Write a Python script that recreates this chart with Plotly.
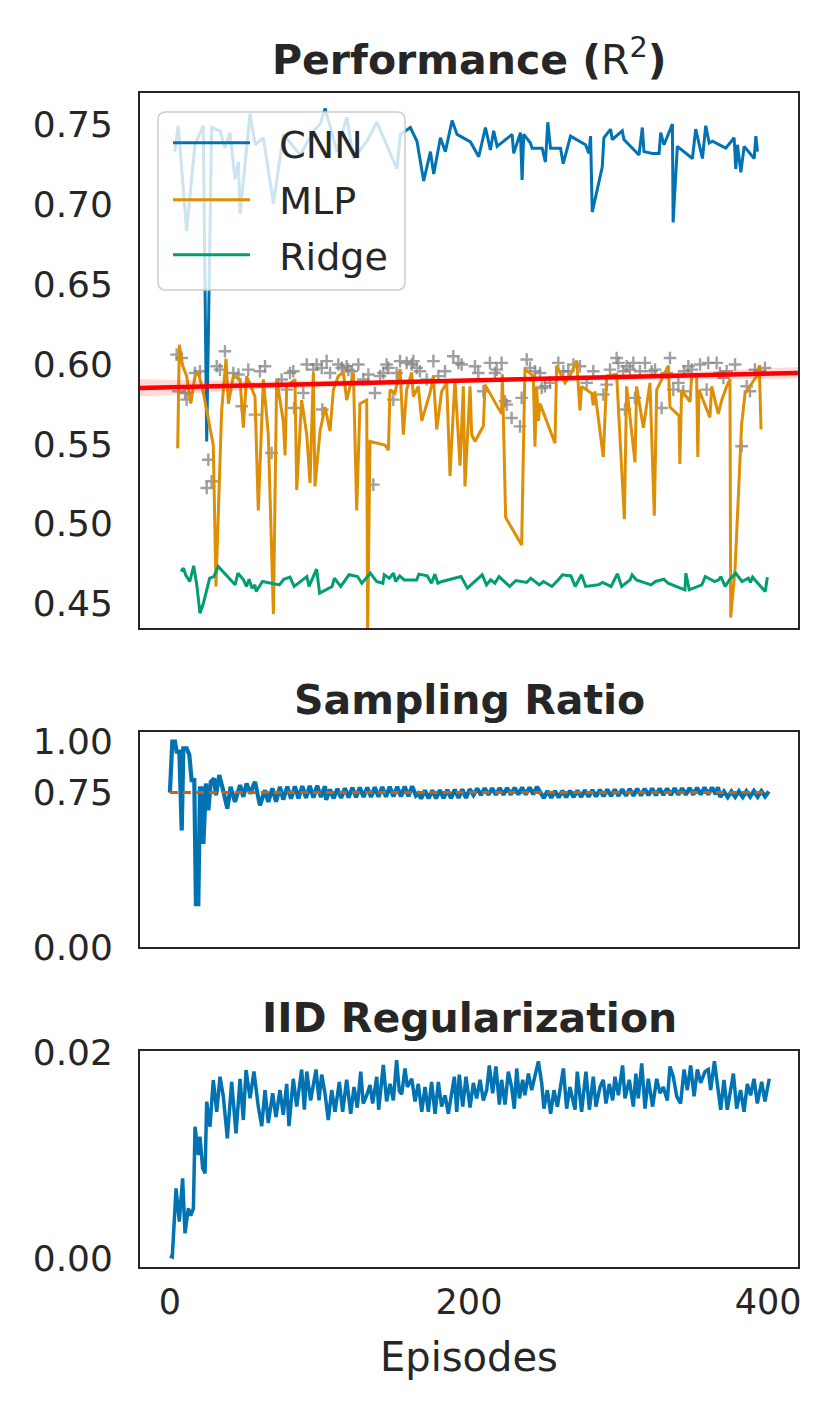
import plotly.graph_objects as go

# ---------------- data ----------------
episodes_ticks = [0, 200, 400]

cnn_x = [3.3, 5.6, 11.2, 16.7, 22.3, 24.6, 27.9, 33.5, 36.8, 40.2, 43.5, 45.8, 46.9, 53.6, 57.0, 62.5, 69.2, 75.9, 87.1, 96.0,
         100.5, 103.8, 111.7, 118.3, 122.8, 131.7, 138.4, 151.8, 154.1, 160.8, 165.2, 169.7, 174.2, 176.4, 180.9, 184.2, 188.7, 192.0, 201.0, 206.5,
         211.0, 214.3, 216.5, 218.8, 228.8, 229.9, 234.4, 235.5, 236.6, 241.1, 242.2, 248.9, 251.1, 252.7, 254.5, 261.2, 263.0, 267.9, 277.9, 280.2,
         281.3, 282.4, 289.1, 290.2, 294.7, 295.8, 302.5, 303.6, 313.7, 315.9, 317.0, 322.6, 327.1, 328.2, 330.4, 336.0, 336.5, 338.2, 339.3, 349.4,
         351.6, 356.1, 358.3, 360.6, 362.8, 371.7, 377.3, 378.4, 379.5, 381.8, 384.0, 390.7, 391.8, 392.9]
cnn_r2 = [0.7329, 0.7491, 0.6832, 0.7372, 0.7491, 0.5515, 0.7480, 0.7459, 0.7351, 0.7448, 0.7156, 0.7264, 0.6940, 0.7567, 0.7372, 0.7416, 0.7005, 0.7437, 0.7308, 0.7459,
          0.7502, 0.7599, 0.7329, 0.7545, 0.7286, 0.7394, 0.7513, 0.7221, 0.7437, 0.7480, 0.7394, 0.7146, 0.7329, 0.7189, 0.7416, 0.7329, 0.7524, 0.7437, 0.7390, 0.7297,
          0.7480, 0.7340, 0.7459, 0.7362, 0.7437, 0.7318, 0.7448, 0.7152, 0.7437, 0.7383, 0.7351, 0.7351, 0.7264, 0.7513, 0.7351, 0.7351, 0.7254, 0.7426, 0.7372, 0.7318,
          0.7426, 0.6951, 0.7232, 0.7416, 0.7470, 0.7405, 0.7459, 0.7405, 0.7308, 0.7480, 0.7329, 0.7318, 0.7318, 0.7448, 0.7372, 0.7502, 0.6886, 0.7156, 0.7362, 0.7286,
          0.7470, 0.7286, 0.7491, 0.7383, 0.7394, 0.7351, 0.7416, 0.7221, 0.7372, 0.7200, 0.7362, 0.7286, 0.7426, 0.7329]

mlp_x = [5.2, 6.3, 8.5, 11.2, 13.9, 16.8, 19.0, 22.4, 29.0, 30.8, 34.6, 37.5, 39.1, 42.4, 46.9, 49.1, 51.3, 56.9, 59.1, 62.5,
         65.8, 69.2, 71.4, 75.8, 77.0, 78.1, 83.6, 84.8, 88.1, 91.5, 93.7, 95.9, 97.0, 100.4, 103.7, 107.1, 109.3, 112.6, 116.0, 118.2,
         122.7, 124.9, 127.1, 131.6, 132.2, 133.8, 143.8, 146.1, 147.2, 150.5, 153.9, 156.1, 158.3, 161.7, 162.8, 166.1, 168.4, 173.9, 176.2, 178.4,
         181.7, 185.1, 187.3, 190.6, 194.0, 196.2, 197.3, 200.7, 201.8, 204.0, 209.6, 210.7, 221.8, 222.3, 224.5, 235.2, 237.4, 243.0, 244.1, 245.2,
         246.4, 247.5, 257.5, 258.6, 262.0, 264.2, 267.5, 272.0, 274.2, 275.3, 282.0, 283.1, 284.2, 289.8, 292.1, 298.7, 303.9, 305.4, 311.0, 312.1,
         316.6, 321.0, 323.9, 325.5, 333.3, 334.4, 340.4, 341.0, 342.2, 347.8, 348.9, 352.2, 353.0, 353.8, 361.1, 362.3, 366.7, 369.0, 372.3, 374.5,
         375.0, 377.9, 382.3, 384.6, 392.4, 394.1, 395.3]
mlp_r2 = [0.5472, 0.6120, 0.5990, 0.5925, 0.5752, 0.5925, 0.5947, 0.5817, 0.5493, 0.4608, 0.5709, 0.6033, 0.5752, 0.5925, 0.5904, 0.5601, 0.5925, 0.5796, 0.5083, 0.5904,
          0.5558, 0.4435, 0.5904, 0.5644, 0.5428, 0.5860, 0.5904, 0.5212, 0.5774, 0.5558, 0.5256, 0.5947, 0.5234, 0.5580, 0.5731, 0.5580, 0.5839, 0.5925, 0.5947, 0.5774,
          0.5947, 0.5083, 0.5752, 0.5774, 0.4300, 0.5515, 0.5493, 0.5461, 0.5839, 0.5817, 0.5968, 0.5558, 0.5839, 0.5947, 0.5796, 0.5860, 0.5644, 0.5817, 0.5925, 0.5590,
          0.5828, 0.5882, 0.5299, 0.5904, 0.5364, 0.5860, 0.5234, 0.5860, 0.5558, 0.5515, 0.5612, 0.5871, 0.5688, 0.5936, 0.5040, 0.4867, 0.5968, 0.5925, 0.5482, 0.5860,
          0.5644, 0.5752, 0.5504, 0.5990, 0.5925, 0.5882, 0.5925, 0.6022, 0.5709, 0.5860, 0.5817, 0.5742, 0.5828, 0.5418, 0.5925, 0.5936, 0.5029, 0.5860, 0.5385, 0.5860,
          0.5601, 0.5882, 0.5050, 0.5839, 0.5990, 0.5731, 0.5677, 0.5374, 0.5839, 0.5763, 0.5925, 0.5925, 0.5418, 0.5839, 0.5666, 0.5860, 0.5688, 0.5774, 0.5860, 0.5904,
          0.4413, 0.4716, 0.5623, 0.5817, 0.5925, 0.5990, 0.5590]

ridge_x = [7.4, 9.1, 10.5, 13.3, 15.9, 18.1, 20.1, 22.4, 26.6, 29.4, 32.3, 36.5, 43.6, 45.5, 49.2, 51.2, 52.9, 54.9, 56.8, 57.7,
           61.9, 73.2, 76.1, 80.3, 83.1, 91.6, 93.0, 98.1, 100.1, 108.5, 110.0, 114.2, 119.8, 125.5, 128.3, 134.0, 138.2, 142.4, 143.3, 146.7,
           149.5, 150.9, 153.7, 156.6, 165.0, 166.5, 172.1, 174.9, 177.2, 179.2, 182.0, 194.7, 198.9, 208.8, 211.7, 214.5, 217.3, 220.1, 227.2, 231.4,
           238.5, 241.3, 247.0, 249.8, 255.4, 259.7, 262.5, 268.2, 271.0, 275.2, 278.0, 286.5, 289.3, 295.0, 299.2, 302.1, 307.7, 309.1, 311.9, 321.8,
           324.7, 330.3, 333.1, 344.4, 345.0, 347.3, 355.7, 358.0, 364.2, 367.0, 368.4, 371.3, 374.1, 378.3, 382.6, 386.8, 388.2, 389.6, 398.1, 399.5]
ridge_r2 = [0.4702, 0.4722, 0.4681, 0.4639, 0.4737, 0.4608, 0.4440, 0.4503, 0.4660, 0.4670, 0.4733, 0.4691, 0.4618, 0.4691, 0.4649, 0.4608, 0.4653, 0.4597, 0.4618, 0.4576,
            0.4639, 0.4618, 0.4653, 0.4666, 0.4608, 0.4670, 0.4608, 0.4716, 0.4566, 0.4608, 0.4660, 0.4608, 0.4681, 0.4670, 0.4628, 0.4691, 0.4639, 0.4628, 0.4681, 0.4660,
            0.4691, 0.4639, 0.4674, 0.4649, 0.4649, 0.4685, 0.4674, 0.4628, 0.4685, 0.4628, 0.4639, 0.4670, 0.4597, 0.4681, 0.4618, 0.4649, 0.4628, 0.4670, 0.4608, 0.4645,
            0.4633, 0.4660, 0.4618, 0.4639, 0.4608, 0.4649, 0.4681, 0.4674, 0.4608, 0.4681, 0.4608, 0.4618, 0.4633, 0.4608, 0.4687, 0.4608, 0.4649, 0.4681, 0.4649, 0.4618,
            0.4639, 0.4653, 0.4628, 0.4587, 0.4691, 0.4587, 0.4618, 0.4670, 0.4639, 0.4649, 0.4670, 0.4608, 0.4649, 0.4691, 0.4639, 0.4660, 0.4633, 0.4666, 0.4576, 0.4666]

scatter_x = [4.5, 7.9, 5.6, 10.1, 11.2, 16.8, 20.1, 24.6, 25.7, 27.9, 31.3, 33.5, 36.8, 42.4, 45.8, 48.0, 52.4, 56.9, 60.2, 63.6,
             68.0, 72.5, 74.7, 78.1, 80.3, 82.5, 83.0, 89.2, 91.5, 95.9, 98.1, 101.5, 101.9, 104.8, 107.1, 112.6, 114.9, 118.2, 119.3, 121.5,
             126.0, 129.3, 132.7, 136.0, 137.1, 140.5, 142.7, 144.9, 146.1, 149.4, 151.6, 153.9, 158.3, 161.7, 162.8, 165.0, 167.2, 171.7, 176.2, 179.5,
             184.0, 189.5, 192.9, 195.1, 204.0, 206.2, 209.6, 214.0, 217.4, 218.5, 221.8, 224.1, 225.2, 228.5, 234.1, 235.2, 238.6, 240.8, 244.1, 247.5,
             248.6, 250.8, 254.2, 259.7, 263.1, 266.4, 269.8, 274.2, 278.7, 283.1, 289.8, 292.1, 294.3, 298.7, 299.9, 303.2, 304.3, 305.4, 307.6, 309.9,
             311.0, 314.3, 317.7, 322.1, 324.4, 328.8, 332.2, 334.4, 336.6, 340.0, 343.3, 343.8, 346.7, 348.9, 354.5, 358.9, 360.0, 365.6, 367.8, 370.1,
             372.3, 377.9, 382.3, 385.7, 387.9, 391.2, 394.6, 397.9]
scatter_r2 = [0.6059, 0.6038, 0.5830, 0.5819, 0.5777, 0.5944, 0.5955, 0.5224, 0.5401, 0.5266, 0.5986, 0.5965, 0.6080, 0.5944, 0.5934, 0.5736, 0.5965, 0.5683, 0.5955, 0.5986,
              0.5443, 0.5871, 0.5903, 0.5840, 0.5944, 0.5955, 0.5725, 0.5819, 0.5997, 0.5965, 0.5997, 0.5976, 0.5715, 0.6018, 0.5944, 0.5997, 0.5976, 0.5986, 0.5965, 0.5955,
              0.5997, 0.5903, 0.5934, 0.5245, 0.5819, 0.5924, 0.5944, 0.5997, 0.5976, 0.5777, 0.5944, 0.6018, 0.6007, 0.5997, 0.6018, 0.5976, 0.5955, 0.5903, 0.6018, 0.5924,
              0.5955, 0.6049, 0.6007, 0.5997, 0.5986, 0.5944, 0.5830, 0.6007, 0.5944, 0.5965, 0.6007, 0.5767, 0.5746, 0.5662, 0.5610, 0.5788, 0.6028, 0.5976, 0.5955, 0.5944,
              0.5850, 0.5861, 0.5882, 0.6007, 0.5955, 0.5955, 0.5997, 0.5986, 0.5882, 0.5955, 0.5809, 0.5871, 0.5965, 0.6038, 0.6007, 0.5955, 0.5715, 0.5986, 0.5965, 0.6007,
              0.5788, 0.5955, 0.6007, 0.5955, 0.5965, 0.5725, 0.5944, 0.6038, 0.5840, 0.5882, 0.5830, 0.5955, 0.5986, 0.5965, 0.5997, 0.5840, 0.6007, 0.6007, 0.5944, 0.5913,
              0.5955, 0.5997, 0.5485, 0.5861, 0.5830, 0.5965, 0.5955, 0.5976]

# regression line and its confidence band
reg_x = [-20, 420]
reg_y = [0.5850, 0.5944]
band_x = [-20, 60, 200, 330, 420]
band_lo = [0.5795, 0.5842, 0.5885, 0.5903, 0.5907]
band_hi = [0.5905, 0.5892, 0.5909, 0.5943, 0.5981]

ratio_x = [0, 1.6, 3.4, 4.5, 6.3, 7.9, 9.0, 11.2, 13.0, 14.5, 16.3, 17.4, 19.0, 20.1, 21.2, 22.4, 24.1, 25.7, 27.3, 29.5,
           30.8, 33.0, 35.3, 38.4, 40.6, 43.5, 46.9, 49.1, 51.3, 53.6, 56.9, 60.2, 63.6, 65.8, 68.5, 71.0, 73.6, 75.8, 78.5, 81.0,
           83.6, 86.0, 88.5, 91.0, 93.5, 96.0, 98.5, 101.0, 103.7, 104.5, 107.0, 109.5, 112.0, 114.5, 117.0, 119.5, 122.0, 124.5, 127.0, 129.5,
           132.0, 134.5, 137.0, 139.5, 142.0, 144.5, 147.0, 149.5, 152.0, 154.5, 157.0, 159.5, 162.0, 164.5, 166.0, 168.0, 170.5, 173.0, 175.5, 178.0,
           180.5, 183.0, 185.5, 188.0, 190.5, 193.0, 195.5, 198.0, 200.5, 203.0, 205.5, 208.0, 210.5, 213.0, 215.5, 218.0, 220.5, 223.0, 225.5, 228.0,
           230.5, 233.0, 235.5, 238.0, 240.5, 243.0, 245.5, 248.0, 250.0, 252.5, 255.0, 257.5, 260.0, 262.5, 265.0, 267.5, 270.0, 272.5, 275.0, 277.5,
           280.0, 282.5, 285.0, 287.5, 290.0, 292.5, 295.0, 297.5, 300.0, 302.5, 305.0, 307.5, 310.0, 312.5, 315.0, 317.5, 320.0, 322.5, 325.0, 327.5,
           330.0, 332.5, 335.0, 337.5, 340.0, 342.5, 345.0, 347.5, 350.0, 352.5, 355.0, 357.5, 360.0, 362.5, 365.0, 366.5, 368.0, 370.5, 373.0, 375.5,
           378.0, 380.5, 383.0, 385.5, 388.0, 390.5, 393.0, 395.5, 398.0, 400.5]
ratio_y = [0.750, 0.997, 0.997, 0.949, 0.949, 0.566, 0.965, 0.965, 0.932, 0.810, 0.810, 0.208, 0.208, 0.770, 0.770, 0.501, 0.794, 0.664, 0.802, 0.818,
           0.737, 0.835, 0.770, 0.672, 0.778, 0.704, 0.786, 0.729, 0.794, 0.745, 0.802, 0.688, 0.761, 0.704, 0.770, 0.706, 0.778, 0.716, 0.779, 0.720,
           0.780, 0.722, 0.781, 0.724, 0.782, 0.726, 0.783, 0.728, 0.781, 0.715, 0.765, 0.722, 0.768, 0.724, 0.771, 0.726, 0.773, 0.727, 0.774, 0.728,
           0.775, 0.729, 0.776, 0.730, 0.777, 0.730, 0.778, 0.731, 0.778, 0.731, 0.779, 0.732, 0.780, 0.735, 0.745, 0.721, 0.760, 0.722, 0.761, 0.722,
           0.762, 0.723, 0.763, 0.723, 0.764, 0.724, 0.765, 0.724, 0.766, 0.738, 0.770, 0.738, 0.771, 0.739, 0.771, 0.739, 0.772, 0.740, 0.772, 0.740,
           0.773, 0.741, 0.774, 0.741, 0.775, 0.742, 0.778, 0.745, 0.724, 0.757, 0.725, 0.757, 0.726, 0.758, 0.727, 0.759, 0.728, 0.760, 0.729, 0.761,
           0.730, 0.762, 0.731, 0.763, 0.732, 0.764, 0.733, 0.765, 0.734, 0.766, 0.735, 0.767, 0.735, 0.768, 0.736, 0.768, 0.737, 0.769, 0.737, 0.770,
           0.738, 0.770, 0.738, 0.771, 0.739, 0.771, 0.739, 0.772, 0.740, 0.773, 0.740, 0.774, 0.741, 0.775, 0.742, 0.776, 0.728, 0.755, 0.728, 0.755,
           0.729, 0.756, 0.729, 0.756, 0.730, 0.757, 0.730, 0.757, 0.731, 0.755]
target_x = [0, 400]
target_y = [0.75, 0.75]

iid_x = [0, 1.6, 4.1, 6.3, 8.5, 10.1, 12.3, 13.9, 15.7, 16.8, 19.0, 20.1, 21.9, 23.5, 24.6, 26.8, 29.0, 31.3, 33.5, 35.7,
         38.4, 41.3, 44.2, 46.9, 49.1, 50.9, 53.6, 56.2, 59.1, 61.4, 63.6, 65.8, 68.7, 70.9, 73.6, 75.8, 78.1, 79.6, 82.5, 84.8,
         88.1, 89.9, 91.5, 94.1, 97.7, 99.7, 101.5, 103.7, 105.9, 108.2, 110.4, 113.3, 115.5, 118.2, 120.9, 123.1, 125.3, 127.6, 129.3, 131.6,
         133.8, 135.6, 138.3, 139.6, 142.7, 144.9, 147.2, 149.4, 151.6, 153.4, 155.0, 157.2, 158.8, 161.7, 163.9, 166.1, 168.4, 170.6, 172.8, 175.0,
         177.3, 179.5, 181.7, 184.0, 186.2, 188.4, 190.2, 191.8, 193.5, 195.8, 198.0, 200.7, 202.9, 205.1, 207.4, 209.6, 211.8, 213.6, 215.8, 218.0,
         220.3, 221.8, 224.1, 226.3, 228.5, 230.3, 231.9, 233.7, 235.9, 237.4, 239.7, 241.9, 244.1, 246.4, 248.6, 250.1, 252.4, 254.6, 256.8, 259.1,
         263.1, 265.3, 267.5, 270.9, 272.4, 275.3, 278.2, 280.5, 283.1, 284.9, 287.6, 289.8, 291.6, 293.8, 296.1, 297.6, 299.9, 302.7, 304.3, 307.2,
         309.9, 311.6, 313.2, 315.5, 317.7, 319.9, 322.8, 325.5, 327.7, 329.9, 332.6, 334.4, 336.6, 338.9, 341.5, 343.8, 346.0, 348.2, 350.5, 352.7,
         354.9, 357.8, 360.0, 361.6, 364.1, 366.1, 368.3, 370.5, 372.7, 376.8, 379.0, 381.6, 383.9, 386.1, 388.3, 390.6, 392.8, 395.7, 397.9, 400.8]
iid_reg = [0.0002, 0.0001, 0.00676, 0.00353, 0.00773, 0.0024, 0.00482, 0.00412, 0.00482, 0.01275, 0.0100, 0.01178, 0.00871, 0.00822, 0.01518, 0.01275, 0.01728, 0.0142, 0.0176, 0.0157,
           0.01162, 0.0171, 0.0121, 0.0174, 0.0134, 0.01825, 0.0155, 0.0181, 0.0147, 0.0128, 0.0163, 0.0131, 0.0160, 0.0137, 0.0163, 0.0139, 0.0169, 0.0128, 0.0174, 0.0147,
           0.0183, 0.0144, 0.0181, 0.0153, 0.0183, 0.0153, 0.0178, 0.0160, 0.0134, 0.0163, 0.0142, 0.0171, 0.0142, 0.0173, 0.0140, 0.0166, 0.0146, 0.0181, 0.0150, 0.0158,
           0.0168, 0.0150, 0.0176, 0.0144, 0.01874, 0.0152, 0.0169, 0.0153, 0.0192, 0.0162, 0.0159, 0.0184, 0.0166, 0.0174, 0.0152, 0.0169, 0.0142, 0.0166, 0.0142, 0.0171,
           0.0140, 0.0171, 0.0147, 0.0158, 0.0140, 0.0163, 0.0176, 0.0142, 0.0178, 0.0147, 0.0176, 0.0146, 0.0170, 0.0155, 0.0173, 0.0153, 0.0163, 0.0187, 0.0160, 0.0186,
           0.0149, 0.0173, 0.0149, 0.0181, 0.0166, 0.0145, 0.0184, 0.0155, 0.0173, 0.0158, 0.0179, 0.0163, 0.0176, 0.0191, 0.0170, 0.0145, 0.0163, 0.0140, 0.0163, 0.0147,
           0.0184, 0.0145, 0.0166, 0.0144, 0.0181, 0.0142, 0.0181, 0.0144, 0.0176, 0.0147, 0.0166, 0.0173, 0.0150, 0.0169, 0.0153, 0.0176, 0.0158, 0.0187, 0.0155, 0.0173,
           0.0147, 0.0179, 0.0155, 0.0189, 0.0145, 0.0174, 0.0147, 0.0174, 0.0160, 0.0166, 0.0153, 0.0186, 0.0176, 0.0157, 0.0150, 0.0183, 0.0163, 0.0187, 0.0157, 0.0183,
           0.0170, 0.0181, 0.0183, 0.0163, 0.0191, 0.0166, 0.0144, 0.0173, 0.0144, 0.0179, 0.0145, 0.0163, 0.0142, 0.0169, 0.0158, 0.0174, 0.0150, 0.0171, 0.0152, 0.0174]

# ---------------- styling ----------------
BLUE = "#0173B2"
ORANGE = "#DE8F05"
GREEN = "#029E73"
VERMIL = "#D55E00"
TEXT = "#262626"
FONT = "DejaVu Sans"
NB = "\u00a0\u00a0"

fig = go.Figure()

# Performance panel
fig.add_trace(go.Scatter(x=scatter_x, y=scatter_r2, mode="markers", showlegend=False,
                         marker=dict(symbol="cross-thin", size=9, color="rgba(128,128,128,0.75)",
                                     line=dict(width=2.4, color="rgba(128,128,128,0.75)")),
                         xaxis="x", yaxis="y"))
fig.add_trace(go.Scatter(x=cnn_x, y=cnn_r2, mode="lines", name=NB + "CNN", legend="legend",
                         line=dict(color=BLUE, width=3), xaxis="x", yaxis="y"))
fig.add_trace(go.Scatter(x=mlp_x, y=mlp_r2, mode="lines", name=NB + "MLP", legend="legend2",
                         line=dict(color=ORANGE, width=3), xaxis="x", yaxis="y"))
fig.add_trace(go.Scatter(x=ridge_x, y=ridge_r2, mode="lines", name=NB + "Ridge", legend="legend3",
                         line=dict(color=GREEN, width=3), xaxis="x", yaxis="y"))
fig.add_trace(go.Scatter(x=band_x + band_x[::-1], y=band_hi + band_lo[::-1], mode="lines",
                         fill="toself", fillcolor="rgba(255,0,0,0.15)", line=dict(width=0),
                         showlegend=False, hoverinfo="skip", xaxis="x", yaxis="y"))
fig.add_trace(go.Scatter(x=reg_x, y=reg_y, mode="lines", showlegend=False,
                         line=dict(color="#FF0000", width=4.5), xaxis="x", yaxis="y"))

# Sampling ratio panel
fig.add_trace(go.Scatter(x=ratio_x, y=ratio_y, mode="lines", showlegend=False,
                         line=dict(color=BLUE, width=4.2), xaxis="x2", yaxis="y2"))
fig.add_trace(go.Scatter(x=target_x, y=target_y, mode="lines", showlegend=False,
                         line=dict(color=VERMIL, width=3, dash="8px,5px"), xaxis="x2", yaxis="y2"))

# IID regularization panel
fig.add_trace(go.Scatter(x=iid_x, y=iid_reg, mode="lines", showlegend=False,
                         line=dict(color=BLUE, width=3.5), xaxis="x3", yaxis="y3"))

frame = dict(showline=True, mirror=True, linecolor=TEXT, linewidth=1.8,
             showgrid=False, zeroline=False, ticks="")
tickfont = dict(family=FONT, size=36, color=TEXT)

legend_common = dict(x=0.0426, xanchor="left", yanchor="middle", bgcolor="rgba(0,0,0,0)",
                     borderwidth=0, font=dict(family=FONT, size=38, color=TEXT), itemwidth=77)

# page offset compensation (body margin of 8 px)
fig.update_layout(
    width=814, height=1396,
    margin=dict(l=132, r=24, t=85, b=137),
    paper_bgcolor="white", plot_bgcolor="white",
    font=dict(family=FONT, color=TEXT),
    xaxis=dict(domain=[0, 1], range=[-20, 420], anchor="y", showticklabels=False, **frame),
    yaxis=dict(domain=[0.5443, 1], range=[0.4348, 0.7696], anchor="x",
               tickvals=[0.45, 0.50, 0.55, 0.60, 0.65, 0.70, 0.75],
               ticktext=["0.45", "0.50", "0.55", "0.60", "0.65", "0.70", "0.75"],
               tickfont=tickfont, ticklabelstandoff=18, **frame),
    xaxis2=dict(domain=[0, 1], range=[-20, 420], anchor="y2", showticklabels=False, **frame),
    yaxis2=dict(domain=[0.2726, 0.4557], range=[0, 1.044], anchor="x2",
                tickvals=[0, 0.75, 1.0], ticktext=["0.00", "0.75", "1.00"],
                tickfont=tickfont, ticklabelstandoff=18, **frame),
    xaxis3=dict(domain=[0, 1], range=[-20, 420], anchor="y3",
                tickvals=episodes_ticks, ticktext=[str(t) for t in episodes_ticks],
                tickfont=dict(family=FONT, size=35, color=TEXT), ticklabelstandoff=3, **frame),
    yaxis3=dict(domain=[0, 0.184], range=[-0.00087, 0.0201], anchor="x3",
                tickvals=[0, 0.02], ticktext=["0.00", "0.02"],
                tickfont=tickfont, ticklabelstandoff=18, **frame),
    legend=dict(y=0.9574, **legend_common),
    legend2=dict(y=0.9089, **legend_common),
    legend3=dict(y=0.8620, **legend_common),
    showlegend=True,
)

# legend frame (rounded, semi-transparent like matplotlib's)
x0, x1, y0, y1 = 0.02736, 0.4027, 0.8322, 0.9838
rx, ry = 0.0122, 0.0068
box_path = (f"M {x0+rx},{y0} L {x1-rx},{y0} Q {x1},{y0} {x1},{y0+ry} L {x1},{y1-ry} "
            f"Q {x1},{y1} {x1-rx},{y1} L {x0+rx},{y1} Q {x0},{y1} {x0},{y1-ry} "
            f"L {x0},{y0+ry} Q {x0},{y0} {x0+rx},{y0} Z")
fig.add_shape(type="path", path=box_path, xref="paper", yref="paper", layer="above",
              fillcolor="rgba(255,255,255,0.8)", line=dict(color="#CCCCCC", width=1.5))

annotations = [
    dict(text="<b>Performance (</b>R<sup>2</sup><b>)</b>", x=0.5, y=1.0307, xref="paper", yref="paper",
         xanchor="center", yanchor="middle", showarrow=False, font=dict(family=FONT, size=41, color=TEXT)),
    dict(text="<b>Sampling Ratio</b>", x=0.5, y=0.483, xref="paper", yref="paper",
         xanchor="center", yanchor="middle", showarrow=False, font=dict(family=FONT, size=41, color=TEXT)),
    dict(text="<b>IID Regularization</b>", x=0.5, y=0.2121, xref="paper", yref="paper",
         xanchor="center", yanchor="middle", showarrow=False, font=dict(family=FONT, size=41, color=TEXT)),
    dict(text="Episodes", x=0.5, y=-0.0767, xref="paper", yref="paper",
         xanchor="center", yanchor="middle", showarrow=False, font=dict(family=FONT, size=40, color=TEXT)),
]
fig.update_layout(annotations=annotations)

fig.write_html("out.html")
